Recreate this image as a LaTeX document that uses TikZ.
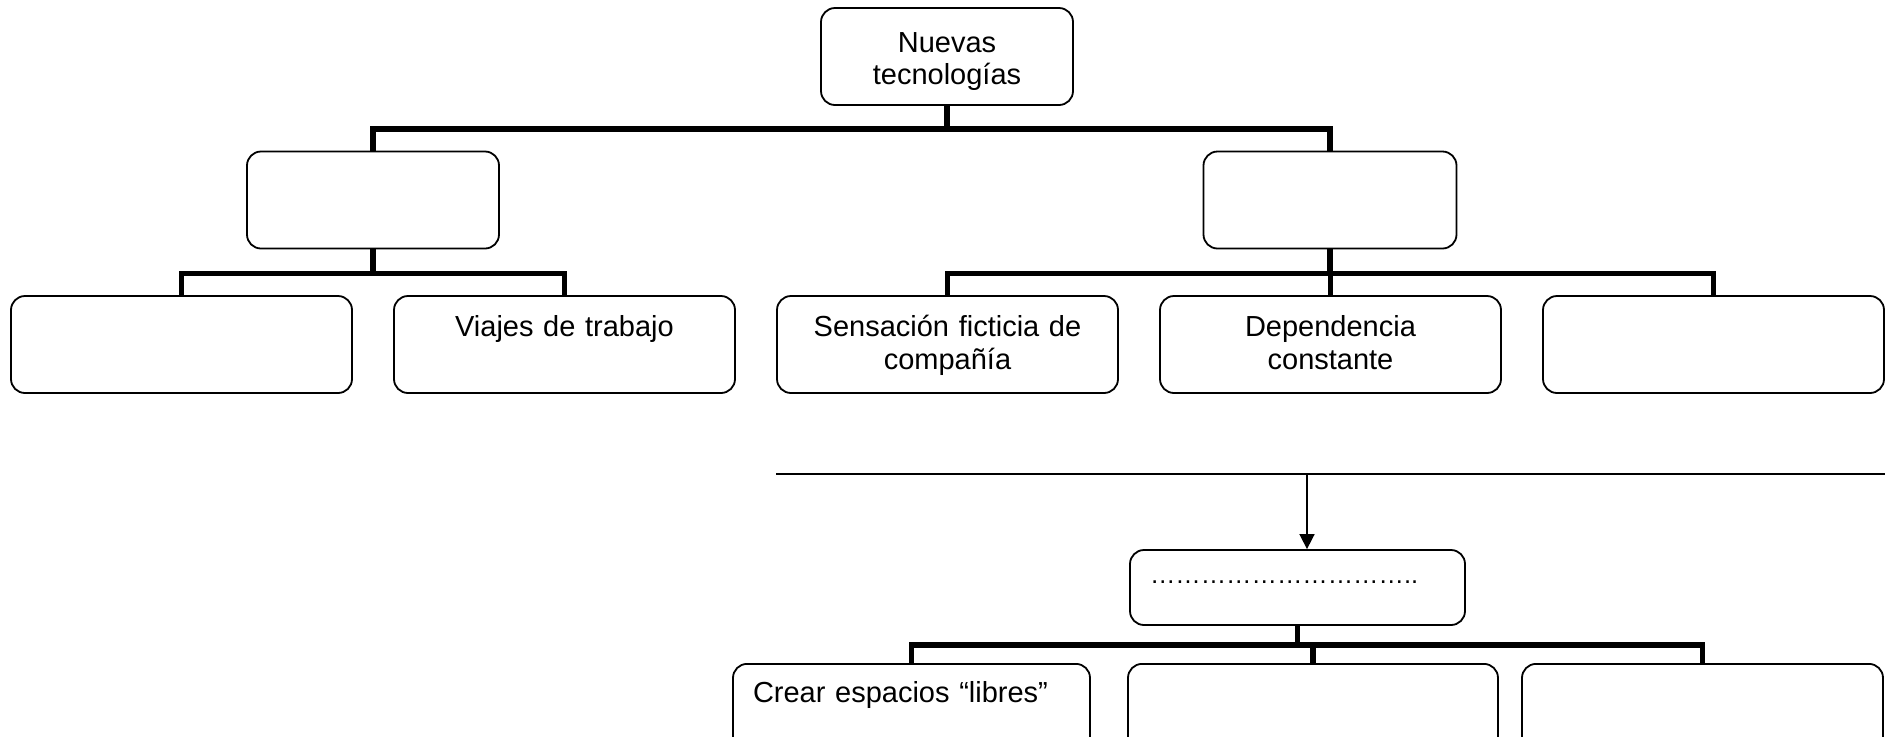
\documentclass[tikz,border=0pt]{standalone}
\usepackage{fontspec}
\setmainfont{Liberation Sans}
\usetikzlibrary{arrows.meta, positioning}

\begin{document}
\begin{tikzpicture}[node distance=24pt and 20.1pt]
    \tikzset{
        block/.style = {rectangle, rounded corners=7pt, draw, line width=0.9pt, inner xsep=6pt, inner ysep=0pt, text height=20.3pt, text depth=28.2pt, align=center, font=\fontsize{14.5pt}{16.2pt}\selectfont},
        leftblock/.style = {block, align=left, inner xsep=10pt},
        bar/.style = {draw, line width=2.8pt},
        fork/.style = {to path={-- ++(0,-#1) -| (\tikztotarget)}},
        line/.style = {draw, line width=0.8pt, -{Triangle[length=7.5pt, width=7.5pt]}}
    }
    \useasboundingbox (0,0) rectangle (943.5pt,-368pt);

    \node[block, text width=114pt, text height=22pt, text depth=26.5pt] (root) at (473.5pt,-28.25pt) {Nuevas\\tecnologías};
    \node[block, text width=114pt] (left) at (186.5pt,-100pt) {};
    \node[block, text width=114.5pt] (right) at (665pt,-100pt) {};

    \node[block, text width=158.5pt] (leafa) at (90.75pt,-172.25pt) {};
    \node[block, text width=158.5pt, right=of leafa] (travel) {Viajes de trabajo};
    \node[block, text width=158.5pt, right=of travel] (company) {Sensación ficticia de\\compañía};
    \node[block, text width=158.5pt, right=of company] (depend) {Dependencia\\constante};
    \node[block, text width=158.5pt, right=of depend] (leafe) {};

    \node[leftblock, text width=147.5pt, text height=16.5pt, text depth=21pt] (dots) at (648.75pt,-293.75pt) {\fontsize{12.7pt}{14pt}\selectfont …………………………..};
    \node[leftblock, text width=158.5pt, text height=19.5pt, anchor=north] (free) at (455.75pt,-331.5pt) {Crear espacios “libres”};
    \node[block, text width=173pt, anchor=north] (sub2) at (656.5pt,-331.5pt) {};
    \node[block, text width=168.5pt, anchor=north] (sub3) at (851.25pt,-331.5pt) {};

    \path[bar] (root.south) to[fork=11.5pt] (left.north);
    \path[bar] (root.south) to[fork=11.5pt] (right.north);
    \path[bar] (left.south) to[fork=12pt] (leafa.north);
    \path[bar] (left.south) to[fork=12pt] (travel.north);
    \path[bar] (right.south) to[fork=12pt] (company.north);
    \path[bar] (right.south) to[fork=12pt] (depend.north);
    \path[bar] (right.south) to[fork=12pt] (leafe.north);

    \coordinate (split) at (653.5pt,-237pt);
    \draw[line width=1pt] (company.west |- split) -- (leafe.east |- split);
    \path[line] (split) -- (split |- dots.north);

    \path[bar] (dots.south) to[fork=9.5pt] (free.north);
    \path[bar] (dots.south) to[fork=9.5pt] (sub2.north);
    \path[bar] (dots.south) to[fork=9.5pt] (sub3.north);
\end{tikzpicture}
\end{document}
